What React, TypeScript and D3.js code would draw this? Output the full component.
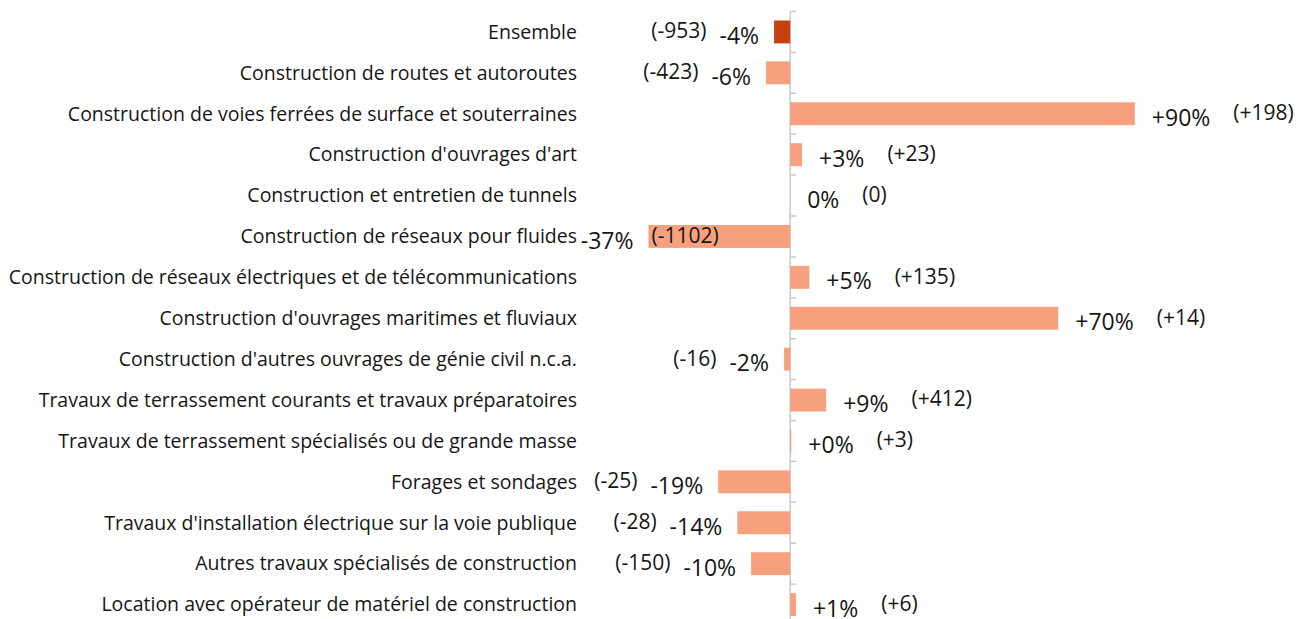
import React, { useEffect, useRef } from "react";
import * as d3 from "d3";

const categories = [
  "Ensemble",
  "Construction de routes et autoroutes",
  "Construction de voies ferrées de surface et souterraines",
  "Construction d'ouvrages d'art",
  "Construction et entretien de tunnels",
  "Construction de réseaux pour fluides",
  "Construction de réseaux électriques et de télécommunications",
  "Construction d'ouvrages maritimes et fluviaux",
  "Construction d'autres ouvrages de génie civil n.c.a.",
  "Travaux de terrassement courants et travaux préparatoires",
  "Travaux de terrassement spécialisés ou de grande masse",
  "Forages et sondages",
  "Travaux d'installation électrique sur la voie publique",
  "Autres travaux spécialisés de construction",
  "Location avec opérateur de matériel de construction",
];

// variation in % (bar lengths)
const changes = [-4.2, -6.3, 90, 3.1, 0, -37, 5, 70, -1.6, 9.4, 0.3, -18.8, -13.8, -10.2, 1.5];

const pctLabels = ["-4%", "-6%", "+90%", "+3%", "0%", "-37%", "+5%", "+70%", "-2%", "+9%", "+0%", "-19%", "-14%", "-10%", "+1%"];
const countLabels = ["(-953)", "(-423)", "(+198)", "(+23)", "(0)", "(-1102)", "(+135)", "(+14)", "(-16)", "(+412)", "(+3)", "(-25)", "(-28)", "(-150)", "(+6)"];

const WIDTH = 1299;
const HEIGHT = 619;
const FONT = "'Open Sans', sans-serif";
const TEXT = "#161616";

export default function App() {
  const svgRef = useRef<SVGSVGElement | null>(null);

  useEffect(() => {
    if (!svgRef.current) return;
    const svg = d3.select(svgRef.current);
    svg.selectAll("*").remove();

    const x = d3.scaleLinear().domain([-40, 95]).range([637, 1154]);
    const y = d3
      .scaleBand<string>()
      .domain(categories)
      .range([11.5, 11.5 + 15 * 40.9])
      .paddingInner(0.44)
      .paddingOuter(0.22);

    const step = y.step();
    const y0 = y.range()[0];
    const zero = x(0);

    // axis line + ticks between categories
    svg
      .append("line")
      .attr("x1", zero)
      .attr("x2", zero)
      .attr("y1", y0)
      .attr("y2", HEIGHT)
      .attr("stroke", "#c9c9c9")
      .attr("stroke-width", 1.5);

    svg
      .selectAll(".tick")
      .data(d3.range(categories.length + 1))
      .enter()
      .append("line")
      .attr("class", "tick")
      .attr("x1", zero)
      .attr("x2", zero + 6)
      .attr("y1", (i) => y0 + i * step)
      .attr("y2", (i) => y0 + i * step)
      .attr("stroke", "#c9c9c9")
      .attr("stroke-width", 1.5);

    categories.forEach((c, i) => {
      const v = changes[i];
      const by = y(c)!;
      const mid = by + y.bandwidth() / 2;
      const x1 = x(Math.min(0, v));
      const x2 = x(Math.max(0, v));
      const neg = v < 0;

      // category label
      svg
        .append("text")
        .attr("x", 577)
        .attr("y", mid)
        .attr("dy", "0.35em")
        .attr("text-anchor", "end")
        .attr("font-size", 19.5)
        .attr("fill", TEXT)
        .text(c);

      svg
        .append("rect")
        .attr("x", x1)
        .attr("y", by)
        .attr("width", x2 - x1)
        .attr("height", y.bandwidth())
        .attr("fill", i === 0 ? "#c5410e" : "#f6a07e");

      const pctX = neg ? x1 - 15 : x2 + 17;
      const pct = svg
        .append("text")
        .attr("x", pctX)
        .attr("y", mid + 4)
        .attr("dy", "0.35em")
        .attr("text-anchor", neg ? "end" : "start")
        .attr("font-size", 23)
        .attr("fill", TEXT)
        .text(pctLabels[i]);
      const pw = (pct.node() as SVGTextElement).getComputedTextLength();

      // count label: inside a long negative bar, otherwise beside the % label
      const inside = neg && x2 - x1 > 100;
      const cx = inside ? x1 + 3 : neg ? pctX - pw - 13 : pctX + pw + 23;
      svg
        .append("text")
        .attr("x", cx)
        .attr("y", mid - 1)
        .attr("dy", "0.35em")
        .attr("text-anchor", inside ? "start" : neg ? "end" : "start")
        .attr("font-size", 21)
        .attr("fill", TEXT)
        .text(countLabels[i]);
    });
  }, []);

  return (
    <svg
      ref={svgRef}
      width={WIDTH}
      height={HEIGHT}
      style={{ position: "absolute", left: 0, top: 0, background: "#fff" }}
      fontFamily={FONT}
    />
  );
}
